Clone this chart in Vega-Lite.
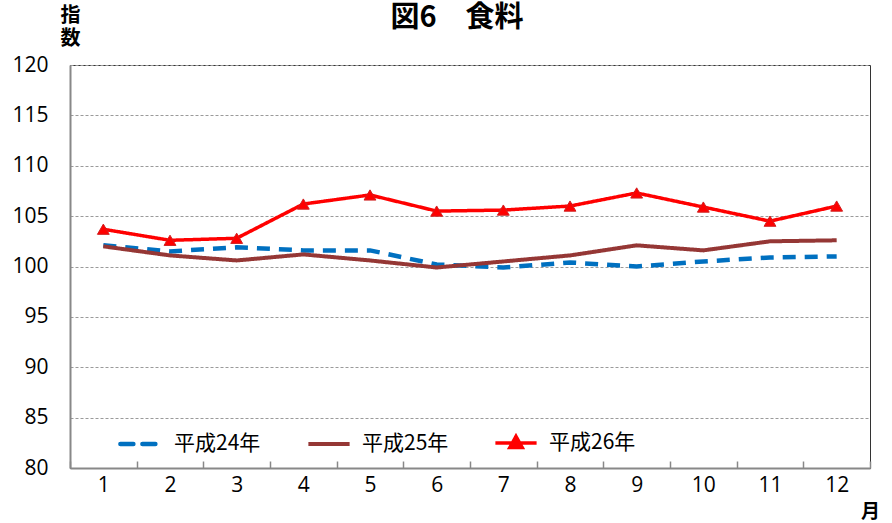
{
  "$schema": "https://vega.github.io/schema/vega-lite/v6.json",
  "width": 800,
  "height": 403,
  "autosize": {"type": "none"},
  "padding": {"left": 70, "top": 65, "right": 22, "bottom": 55},
  "background": "white",
  "title": {
    "text": "図6　食料",
    "font": "Noto Sans CJK JP",
    "fontSize": 29,
    "fontWeight": "bold",
    "color": "#000000",
    "anchor": "middle",
    "frame": "group",
    "baseline": "bottom",
    "dx": -13,
    "dy": 30,
    "offset": -27
  },
  "config": {
    "view": {"stroke": "#333333", "strokeWidth": 1},
    "axis": {"labelColor": "#000000", "titleColor": "#000000"}
  },
  "data": {
    "values": [
      {"month": 1, "series": "平成24年", "value": 102.1},
      {"month": 2, "series": "平成24年", "value": 101.5},
      {"month": 3, "series": "平成24年", "value": 101.9},
      {"month": 4, "series": "平成24年", "value": 101.6},
      {"month": 5, "series": "平成24年", "value": 101.6},
      {"month": 6, "series": "平成24年", "value": 100.2},
      {"month": 7, "series": "平成24年", "value": 99.9},
      {"month": 8, "series": "平成24年", "value": 100.4},
      {"month": 9, "series": "平成24年", "value": 100.0},
      {"month": 10, "series": "平成24年", "value": 100.5},
      {"month": 11, "series": "平成24年", "value": 100.9},
      {"month": 12, "series": "平成24年", "value": 101.0},
      {"month": 1, "series": "平成25年", "value": 102.0},
      {"month": 2, "series": "平成25年", "value": 101.1},
      {"month": 3, "series": "平成25年", "value": 100.6},
      {"month": 4, "series": "平成25年", "value": 101.2},
      {"month": 5, "series": "平成25年", "value": 100.6},
      {"month": 6, "series": "平成25年", "value": 99.9},
      {"month": 7, "series": "平成25年", "value": 100.5},
      {"month": 8, "series": "平成25年", "value": 101.1},
      {"month": 9, "series": "平成25年", "value": 102.1},
      {"month": 10, "series": "平成25年", "value": 101.6},
      {"month": 11, "series": "平成25年", "value": 102.5},
      {"month": 12, "series": "平成25年", "value": 102.6},
      {"month": 1, "series": "平成26年", "value": 103.7},
      {"month": 2, "series": "平成26年", "value": 102.6},
      {"month": 3, "series": "平成26年", "value": 102.8},
      {"month": 4, "series": "平成26年", "value": 106.2},
      {"month": 5, "series": "平成26年", "value": 107.1},
      {"month": 6, "series": "平成26年", "value": 105.5},
      {"month": 7, "series": "平成26年", "value": 105.6},
      {"month": 8, "series": "平成26年", "value": 106.0},
      {"month": 9, "series": "平成26年", "value": 107.3},
      {"month": 10, "series": "平成26年", "value": 105.9},
      {"month": 11, "series": "平成26年", "value": 104.5},
      {"month": 12, "series": "平成26年", "value": 106.0}
    ]
  },
  "encoding": {
    "x": {
      "field": "month",
      "type": "ordinal",
      "scale": {"paddingInner": 0, "paddingOuter": 0},
      "axis": {
        "title": "月",
        "titleFont": "Noto Sans CJK JP",
        "titleFontSize": 19,
        "titleFontWeight": "bold",
        "titleAlign": "center",
        "titleBaseline": "middle",
        "titleX": 800,
        "titleY": 43,
        "labelAngle": 0,
        "labelFont": "Open Sans",
        "labelFontSize": 21,
        "labelPadding": 24,
        "labelBaseline": "middle",
        "tickBand": "extent",
        "tickSize": -7,
        "tickColor": "#888888",
        "tickWidth": 1.5,
        "domainColor": "#888888",
        "domainWidth": 2,
        "grid": false
      }
    },
    "y": {
      "field": "value",
      "type": "quantitative",
      "scale": {"domain": [80, 120], "nice": false, "zero": false},
      "axis": {
        "values": [80, 85, 90, 95, 100, 105, 110, 115, 120],
        "title": ["指", "数"],
        "titleFont": "Noto Sans CJK JP",
        "titleFontSize": 20,
        "titleFontWeight": "bold",
        "titleAngle": 0,
        "titleAlign": "center",
        "titleBaseline": "top",
        "titleLineHeight": 23,
        "titleX": 0,
        "titleY": -60,
        "labelFont": "Open Sans",
        "labelFontSize": 21,
        "labelPadding": 22,
        "ticks": false,
        "domainColor": "#888888",
        "domainWidth": 2,
        "grid": true,
        "gridColor": "#9a9a9a",
        "gridDash": [3, 2],
        "gridWidth": 1
      }
    }
  },
  "layer": [
    {
      "mark": {"type": "line"},
      "encoding": {
        "color": {
          "field": "series",
          "type": "nominal",
          "scale": {
            "domain": ["平成24年", "平成25年", "平成26年"],
            "range": ["#0070C0", "#953735", "#FF0000"]
          },
          "legend": {
            "title": null,
            "orient": "none",
            "legendX": 48,
            "legendY": 355,
            "direction": "horizontal",
            "columns": 3,
            "columnPadding": 39,
            "padding": 0,
            "symbolType": "stroke",
            "symbolSize": 1700,
            "symbolStrokeWidth": 4,
            "labelFont": "Noto Sans CJK JP",
            "labelFontSize": 21,
            "labelColor": "#000000",
            "labelOffset": 10,
            "labelLimit": 200,
            "encode": {
              "symbols": {
                "update": {
                  "shape": {"signal": "datum.value == '平成26年' ? 'M-1,0L1,0M0,-0.32L0.3,0.22L-0.3,0.22Z' : 'stroke'"},
                  "fill": {"signal": "datum.value == '平成26年' ? '#FF0000' : 'transparent'"},
                  "strokeDash": {"signal": "datum.value == '平成24年' ? [12, 10] : [1, 0]"},
                  "strokeCap": {"signal": "datum.value == '平成24年' ? 'round' : 'butt'"}
                }
              }
            }
          }
        },
        "strokeDash": {
          "field": "series",
          "type": "nominal",
          "scale": {
            "domain": ["平成24年", "平成25年", "平成26年"],
            "range": [[13, 9], [1, 0], [1, 0]]
          },
          "legend": null
        },
        "strokeWidth": {
          "field": "series",
          "type": "nominal",
          "scale": {
            "domain": ["平成24年", "平成25年", "平成26年"],
            "range": [4.5, 3.5, 4]
          },
          "legend": null
        }
      }
    },
    {
      "transform": [{"filter": "datum.series == '平成26年'"}],
      "mark": {
        "type": "point",
        "shape": "triangle-up",
        "filled": true,
        "size": 140,
        "color": "#FF0000",
        "stroke": "#d02020",
        "strokeWidth": 1,
        "opacity": 1
      }
    }
  ]
}
